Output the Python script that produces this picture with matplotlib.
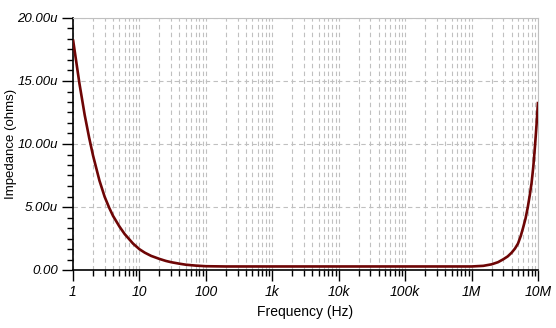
import numpy as np
import matplotlib.pyplot as plt
from matplotlib.ticker import FixedLocator, FuncFormatter, MultipleLocator

plt.rcParams['font.family'] = ['Liberation Sans', 'DejaVu Sans']

# impedance curve, frequency in Hz, impedance in micro-ohms
freq = [1, 1.25, 1.5, 1.75, 2, 2.5, 3, 3.5, 4, 5, 6, 7, 8, 10, 12, 15, 20, 25, 30, 40,
        50, 70, 100, 200, 1e3, 1e4, 1e5, 1e6, 1.5e6, 2e6, 2.5e6, 3e6, 3.5e6, 4e6,
        4.5e6, 5e6, 5.5e6, 6e6, 6.5e6, 7e6, 7.5e6, 8e6, 8.5e6, 9e6, 9.5e6, 1e7]
imp_u = [18.3, 14.8, 12.3, 10.5, 9.1, 7.1, 5.8, 4.95, 4.3, 3.45, 2.85, 2.45, 2.1, 1.65,
         1.38, 1.12, 0.88, 0.72, 0.62, 0.5, 0.42, 0.35, 0.3, 0.28, 0.28, 0.28, 0.28,
         0.28, 0.33, 0.45, 0.62, 0.85, 1.08, 1.37, 1.7, 2.1, 2.7, 3.4, 4.1, 4.95, 5.9,
         6.9, 8.2, 9.8, 11.5, 13.35]

xticks = [1, 10, 100, 1e3, 1e4, 1e5, 1e6, 1e7]
xlabels = ['1', '10', '100', '1k', '10k', '100k', '1M', '10M']
yticks = [0, 5, 10, 15, 20]

fig = plt.figure(figsize=(5.56, 3.28), dpi=100)
ax = fig.add_axes([73/556, 1-270/328, 465/556, 252/328])

ax.plot(freq, imp_u, color='#6e0505', lw=1.9, solid_capstyle='butt', zorder=3)

ax.set_xscale('log')
ax.set_xlim(1, 1e7)
ax.set_ylim(0, 20)

ax.xaxis.set_major_locator(FixedLocator(xticks))
ax.set_xticklabels(xlabels, fontstyle='italic', fontsize=10)
minors = [m * 10**d for d in range(7) for m in range(2, 10)]
ax.xaxis.set_minor_locator(FixedLocator(minors))
ax.xaxis.set_minor_formatter(FuncFormatter(lambda v, p: ''))

ax.yaxis.set_major_locator(FixedLocator(yticks))
ax.yaxis.set_minor_locator(MultipleLocator(5/6))
ax.yaxis.set_major_formatter(FuncFormatter(lambda v, p: '0.00' if v == 0 else '%.2fu' % v))
for t in ax.get_yticklabels():
    t.set_fontstyle('italic')
ax.tick_params(axis='y', labelsize=9.5)

ax.tick_params(which='major', length=8, width=1, color='black', direction='out', pad=3)
ax.tick_params(which='minor', length=4, width=1, color='black', direction='out')
ax.tick_params(top=False, right=False, which='both')

ax.grid(which='major', axis='y', color='#c0c0c0', ls=(0, (4, 3)), lw=0.8)
ax.grid(which='both', axis='x', color='#c0c0c0', ls=(0, (4, 3)), lw=0.8)

for s in ['top', 'right']:
    ax.spines[s].set_color('#c0c0c0')
for s in ['left', 'bottom']:
    ax.spines[s].set_color('black')
    ax.spines[s].set_linewidth(1.2)

ax.set_xlabel('Frequency (Hz)', fontsize=10, labelpad=4)
ax.set_ylabel('Impedance (ohms)', fontsize=9.5)
ax.yaxis.set_label_coords(-0.12, 0.5)

fig.savefig('out.png', dpi=100)
